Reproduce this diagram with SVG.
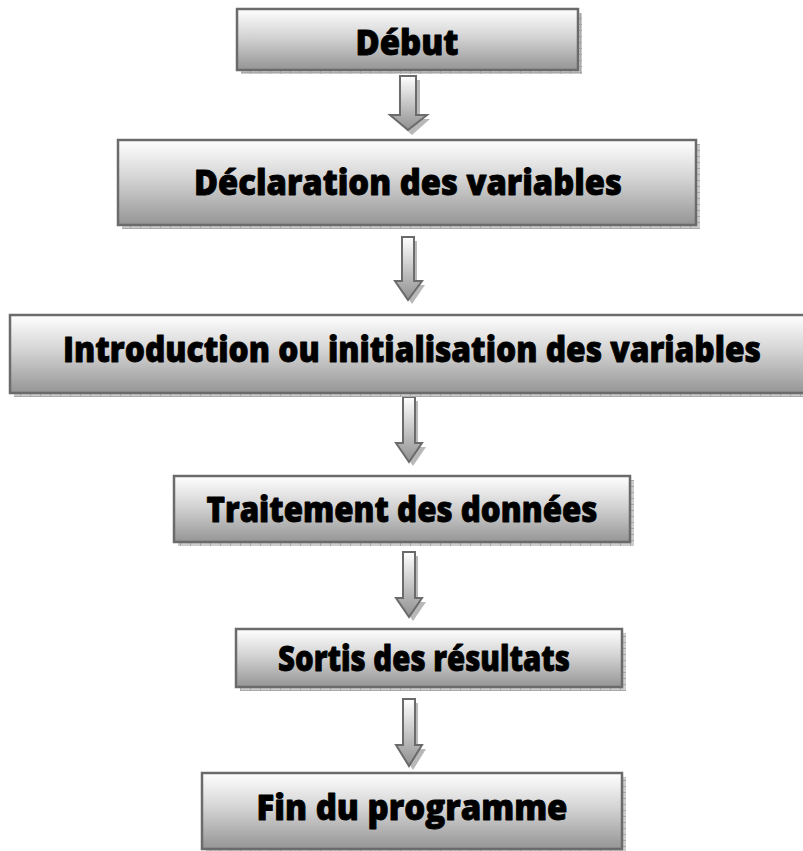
<svg xmlns="http://www.w3.org/2000/svg" width="803" height="851" viewBox="0 0 803 851">
<style>
.box{fill:url(#g);stroke:#6b6b6b;stroke-width:2.5}
.sh{fill:url(#pat)}
.arr{fill:url(#ga);stroke:#6b6b6b;stroke-width:2;stroke-linejoin:miter}
.ash{fill:#b8b8b8}
.t{font-family:"Open Sans","Noto Sans","DejaVu Sans",sans-serif;font-weight:800;font-size:36px;fill:#000;stroke:#000;stroke-width:0.9;stroke-linejoin:round;text-anchor:middle}
</style>
<defs>
<linearGradient id="g" x1="0" y1="0" x2="0" y2="1">
<stop offset="0" stop-color="#ffffff"/>
<stop offset="0.45" stop-color="#d4d4d4"/>
<stop offset="1" stop-color="#959595"/>
</linearGradient>
<linearGradient id="ga" x1="0" y1="0" x2="0" y2="1">
<stop offset="0" stop-color="#ffffff"/>
<stop offset="1" stop-color="#8f8f8f"/>
</linearGradient>
<pattern id="pat" width="10" height="6" patternUnits="userSpaceOnUse">
<rect width="10" height="6" fill="#cdcdcd"/>
<path d="M0 0.5H10M0.5 0V6" stroke="#a9a9a9" stroke-width="1"/>
</pattern>
</defs>
<g id="connectors">
<g><path class="ash" d="M404 80h16v39h10l-18 16l-18-16h10z"/><path class="arr" d="M400 76h16v39h11l-19 15l-18-15h10z"/></g>
<g><path class="ash" d="M405 241h12v44h8l-13 19l-13-19h6z"/><path class="arr" d="M402 237h12v44h8l-14 19l-13-19h7z"/></g>
<g><path class="ash" d="M406 401h12v46h8l-13 19l-13-19h6z"/><path class="arr" d="M403 397h12v46h7l-13 19l-13-19h7z"/></g>
<g><path class="ash" d="M406 556h12v46h8l-13 19l-13-19h6z"/><path class="arr" d="M403 552h12v46h7l-13 19l-13-19h7z"/></g>
<g><path class="ash" d="M406 703h12v46h8l-13 21l-13-21h6z"/><path class="arr" d="M403 699h12v46h7l-13 21l-13-21h7z"/></g>
</g>
<g id="debut"><rect class="sh" x="241" y="13" width="341" height="61"/><rect class="box" x="237" y="9" width="341" height="61"/><text class="t" x="407" y="55" textLength="103" lengthAdjust="spacingAndGlyphs">Début</text></g>
<g id="declaration"><rect class="sh" x="122" y="144" width="578" height="85"/><rect class="box" x="118" y="140" width="578" height="85"/><text class="t" x="408" y="195" textLength="428" lengthAdjust="spacingAndGlyphs">Déclaration des variables</text></g>
<g id="introduction"><rect class="sh" x="14" y="319" width="795" height="78"/><rect class="box" x="10" y="315" width="795" height="78"/><text class="t" x="412" y="362" textLength="698" lengthAdjust="spacingAndGlyphs">Introduction ou initialisation des variables</text></g>
<g id="traitement"><rect class="sh" x="178" y="480" width="456" height="66"/><rect class="box" x="174" y="476" width="456" height="66"/><text class="t" x="402" y="522" textLength="391" lengthAdjust="spacingAndGlyphs">Traitement des données</text></g>
<g id="sortis"><rect class="sh" x="240" y="633" width="386" height="58"/><rect class="box" x="236" y="629" width="386" height="58"/><text class="t" x="424" y="671" textLength="292" lengthAdjust="spacingAndGlyphs">Sortis des résultats</text></g>
<g id="fin"><rect class="sh" x="206" y="777" width="420" height="76"/><rect class="box" x="202" y="773" width="420" height="76"/><text class="t" x="412" y="820" textLength="311" lengthAdjust="spacingAndGlyphs">Fin du programme</text></g>
</svg>
